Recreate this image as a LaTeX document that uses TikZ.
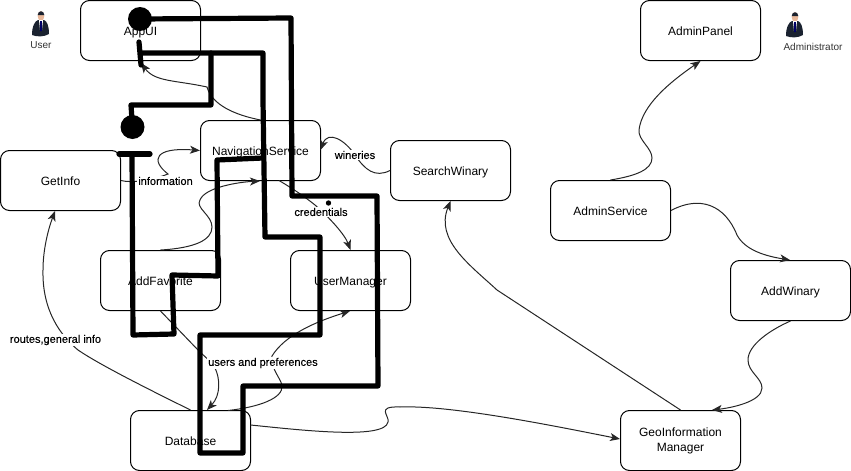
\documentclass[tikz,border=0pt]{standalone}
\usepackage{fontspec}
\setmainfont{Liberation Sans}
\newfontfamily\lblfont[FakeBold=0.2]{Liberation Sans}
\usetikzlibrary{arrows.meta}
\definecolor{suit}{HTML}{1A2230}
\definecolor{skin}{HTML}{E8B89A}
\newcommand\boxtext[1]{\raisebox{-3.9pt}[0pt][0pt]{#1}}
\tikzset{
  box/.style={draw=black,line width=.75pt,rounded corners=6.75pt,minimum width=90pt,minimum height=45pt,inner sep=0pt,font=\fontsize{9}{11.25}\selectfont,text=black},
  flow/.style={draw=black!85,line width=.75pt,-{Stealth[length=7.5pt,width=6pt,inset=2pt]}},
  lbl/.style={fill=white,inner sep=1pt,font=\lblfont\fontsize{8.25}{10}\selectfont,text=black},
  role/.style={inner sep=0pt,font=\fontsize{7.5}{9}\selectfont,text=black!80},
  heavy/.style={draw=black,line width=3.9pt,line join=round,line cap=round},
  blob/.style={circle,fill=black,inner sep=0pt,minimum size=18pt},
  man/.pic={
    \fill[suit] (-9,10) .. controls (-9,1) and (-6,-4) .. (-3,-5) -- (3,-5) .. controls (6,-4) and (8,1) .. (8,9) .. controls (3,12) and (-4,12) .. (-9,10) -- cycle;
    \fill[skin] (0,-9) ellipse (3.3 and 5);
    \fill[suit] (-3.3,-10) .. controls (-3,-15) and (3,-15) .. (3.3,-10) -- cycle;
    \fill[white] (-2,-5) -- (2,-5) -- (1,5) -- (-1,5) -- cycle;
    \fill[black!60!blue] (-.8,-4) -- (.8,-4) -- (1,6) -- (-1,6) -- cycle;
  }
}
\begin{document}
\begin{tikzpicture}[x=.75pt,y=-.75pt]
\useasboundingbox (0,0) rectangle (851,471);
% components
\node[box] (appui) at (140.5,30.5) {\boxtext{AppUI}};
\node[box] (nav) at (260.5,150.5) {\boxtext{NavigationService}};
\node[box] (getinfo) at (60.5,180.5) {\boxtext{GetInfo}};
\node[box] (addfav) at (160.5,280.5) {\boxtext{AddFavorite}};
\node[box] (userman) at (350.5,280.5) {\boxtext{UserManager}};
\node[box] (db) at (190.5,440.5) {\boxtext{Database}};
\node[box] (search) at (450.5,170.5) {\boxtext{SearchWinary}};
\node[box] (adminpanel) at (700.5,30.5) {\boxtext{AdminPanel}};
\node[box] (adminservice) at (610.5,210.5) {\boxtext{AdminService}};
\node[box] (addwinary) at (790.5,290.5) {\boxtext{AddWinary}};
\node[box] (geo) at (680.5,440.5) {\raisebox{3.2pt}[0pt][0pt]{\begin{tabular}[t]{@{}c@{}}GeoInformation\\Manager\end{tabular}}};
% actors
\pic at (41,25) {man};
\node[role] (user) at (41,45.5) {User};
\pic at (795,26) {man};
\node[role] (admin) at (813,46.5) {Administrator};
% thin connectors
\draw[flow] (nav.north) .. controls (235,115) and (212,105) .. (207,87) .. controls (175,80) and (155,82) .. (141,63);
\draw[flow] (getinfo.east) .. controls (130,183) and (150,181) .. (168,174) .. controls (150,160) and (155,147) .. (nav.west);
\draw[flow] (addfav.north) .. controls (195,248) and (212,240) .. (212,227) .. controls (212,215) and (195,208) .. (200,200) .. controls (205,187) and (240,182) .. (260,181);
\draw[flow] (279,180.5) .. controls (295,190) and (305,197) .. (315,205) .. controls (330,218) and (345,235) .. (350.5,250);
\draw[flow] (search.west) .. controls (375,178) and (365,170) .. (355,155) .. controls (345,140) and (328,130) .. (320.5,150);
\draw[flow] (addfav.south) -- (198,350) .. controls (206,358) and (212,362) .. (215,368) .. controls (220,378) and (221,395) .. (207,410);
\draw[flow] (228,410.5) .. controls (260,407) and (283,398) .. (282,386) .. controls (282,380) and (270,368) .. (272,356) .. controls (285,335) and (315,322) .. (350,311);
\draw[flow] (db.north) .. controls (150,390) and (100,365) .. (78,350) .. controls (60,335) and (42,310) .. (43,270) .. controls (43,250) and (48,230) .. (55,211);
\draw[flow] (250.5,425) .. controls (300,430) and (385,440) .. (388,422) .. controls (390,416) and (375,406) .. (400,407) .. controls (450,405) and (550,425) .. (620,439);
\draw[flow] (geo.north) -- (497,290) .. controls (470,265) and (435,240) .. (450.5,201);
\draw[flow] (adminservice.north) .. controls (635,176) and (652,170) .. (652,158) .. controls (652,148) and (638,140) .. (639,130) .. controls (642,105) and (670,82) .. (700.5,61);
\draw[flow] (adminservice.east) .. controls (700,195) and (725,205) .. (737,235) .. controls (745,250) and (765,256) .. (790,260);
\draw[flow] (addwinary.south) .. controls (770,330) and (748,345) .. (748,360) .. controls (748,372) and (762,378) .. (762,388) .. controls (762,402) and (730,408) .. (712,410);
% connector labels
\node[lbl] (linfo) at (165.5,181) {information};
\node[lbl] (lwine) at (355,155) {wineries};
\node[lbl] (lcred) at (321,212) {credentials};
\node[lbl] (lusers) at (263,363) {users and preferences};
\node[lbl] (lroutes) at (55.5,340) {routes,general info};
% overdrawn heavy strokes
\node[blob] (dotA) at (140,19) {};
\node[blob] (dotB) at (132.5,127) {};
\fill (328.5,203) circle (2pt);
\coordinate (hA) at (263,53);
\coordinate (hB) at (211,53);
\coordinate (hC) at (141,53);
\draw[heavy] (dotA.center) -- (291,18) -- (292,196) -- (377,196) -- (378,386) -- (243,386) -- (243,453) -- (200,453) -- (200,335) -- (320,335) -- (320,237) -- (265,237) -- (263,100) -- (hA) -- (hC);
\draw[heavy] (139,42) -- (141,65);
\draw[heavy] (hB) -- (211,105) -- (131,105) -- (dotB.center);
\draw[heavy] (119,154) -- (150,154);
\draw[heavy] (132,154) -- (133,335) -- (174,334) -- (172,275) -- (218,276) -- (217,160) -- (263,158);
\end{tikzpicture}
\end{document}
